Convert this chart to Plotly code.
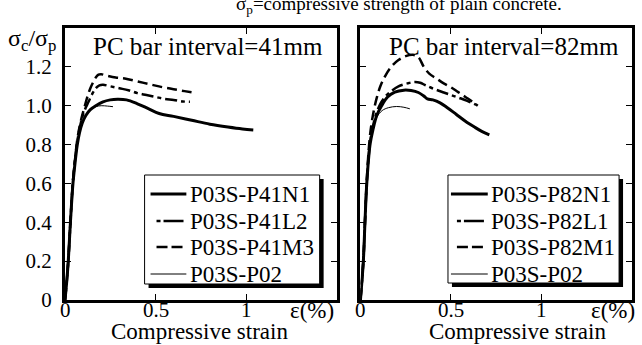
import plotly.graph_objects as go

# ---------------- data ----------------
# Left panel: PC bar interval = 41 mm
n1_41_x = [0, 0.01, 0.018, 0.03, 0.044, 0.056, 0.068, 0.08, 0.095, 0.115, 0.14, 0.17, 0.21, 0.25, 0.29, 0.34, 0.4, 0.46, 0.52, 0.6, 0.7, 0.8, 0.9, 0.98, 1.04]
n1_41_y = [0, 0.1, 0.2, 0.4, 0.6, 0.71, 0.8, 0.86, 0.91, 0.95, 0.98, 1.0, 1.02, 1.03, 1.033, 1.03, 1.01, 0.985, 0.96, 0.945, 0.925, 0.905, 0.89, 0.88, 0.875]
l2_41_x = [0, 0.01, 0.018, 0.03, 0.043, 0.055, 0.067, 0.08, 0.095, 0.11, 0.13, 0.15, 0.17, 0.19, 0.21, 0.25, 0.3, 0.35, 0.4, 0.45, 0.5, 0.55, 0.6, 0.65, 0.69]
l2_41_y = [0, 0.1, 0.2, 0.4, 0.6, 0.72, 0.81, 0.88, 0.94, 0.98, 1.02, 1.06, 1.09, 1.105, 1.108, 1.1, 1.09, 1.08, 1.065, 1.055, 1.045, 1.035, 1.03, 1.022, 1.02]
m3_41_x = [0, 0.01, 0.018, 0.03, 0.043, 0.055, 0.067, 0.08, 0.095, 0.11, 0.125, 0.14, 0.155, 0.17, 0.185, 0.2, 0.23, 0.28, 0.33, 0.4, 0.47, 0.54, 0.6, 0.66, 0.705]
m3_41_y = [0, 0.1, 0.2, 0.4, 0.6, 0.72, 0.82, 0.89, 0.95, 1.0, 1.05, 1.09, 1.12, 1.145, 1.16, 1.162, 1.155, 1.145, 1.14, 1.125, 1.11, 1.095, 1.085, 1.075, 1.068]
p02_41_x = [0, 0.01, 0.018, 0.03, 0.044, 0.056, 0.068, 0.08, 0.095, 0.115, 0.14, 0.17, 0.2, 0.235, 0.265]
p02_41_y = [0, 0.1, 0.2, 0.4, 0.6, 0.71, 0.8, 0.86, 0.91, 0.95, 0.98, 0.995, 1.0, 0.998, 0.995]

# Right panel: PC bar interval = 82 mm
n1_82_x = [0, 0.016, 0.025, 0.035, 0.053, 0.07, 0.09, 0.117, 0.15, 0.19, 0.24, 0.28, 0.32, 0.35, 0.37, 0.4, 0.44, 0.48, 0.53, 0.58, 0.63, 0.67, 0.712]
n1_82_y = [0, 0.2, 0.4, 0.6, 0.8, 0.88, 0.95, 1.0, 1.045, 1.07, 1.08, 1.078, 1.068, 1.05, 1.035, 1.03, 1.015, 0.99, 0.955, 0.92, 0.89, 0.868, 0.85]
l1_82_x = [0, 0.016, 0.025, 0.035, 0.052, 0.068, 0.088, 0.11, 0.14, 0.17, 0.21, 0.26, 0.3, 0.33, 0.36, 0.41, 0.46, 0.5, 0.54, 0.59, 0.638]
l1_82_y = [0, 0.2, 0.4, 0.6, 0.8, 0.89, 0.96, 1.01, 1.05, 1.075, 1.1, 1.115, 1.122, 1.118, 1.105, 1.085, 1.068, 1.055, 1.042, 1.025, 1.005]
m1_82_x = [0, 0.016, 0.025, 0.034, 0.048, 0.06, 0.075, 0.09, 0.11, 0.135, 0.17, 0.21, 0.25, 0.29, 0.32, 0.35, 0.38, 0.42, 0.46, 0.5, 0.54, 0.58, 0.62, 0.648]
m1_82_y = [0, 0.2, 0.4, 0.6, 0.8, 0.9, 0.98, 1.04, 1.1, 1.15, 1.2, 1.235, 1.255, 1.262, 1.25, 1.2, 1.165, 1.14, 1.115, 1.095, 1.07, 1.045, 1.02, 1.0]
p02_82_x = [0, 0.016, 0.025, 0.035, 0.053, 0.07, 0.09, 0.12, 0.155, 0.2, 0.24, 0.273]
p02_82_y = [0, 0.2, 0.4, 0.6, 0.8, 0.88, 0.94, 0.975, 0.99, 0.996, 0.992, 0.984]

names_41 = ["P03S-P41N1", "P03S-P41L2", "P03S-P41M3", "P03S-P02"]
names_82 = ["P03S-P82N1", "P03S-P82L1", "P03S-P82M1", "P03S-P02"]

y_ticks = [0, 0.2, 0.4, 0.6, 0.8, 1.0, 1.2]
y_tick_text = ["0", "0.2", "0.4", "0.6", "0.8", "1.0", "1.2"]
x_ticks = [0, 0.5, 1]
x_tick_text = ["0", "0.5", "1"]

# ---------------- styles ----------------
FONT = "Liberation Serif"
styles = [
    dict(width=3, dash="solid"),
    dict(width=2.5, dash="12px,4px,4px,4px"),
    dict(width=2.5, dash="10px,5px"),
    dict(width=1, dash="solid"),
]
legend_dash = ["solid", "4px,3px,20px,40px", "11px,4px,11px,40px", "solid"]

fig = go.Figure()

left_sets = [(n1_41_x, n1_41_y), (l2_41_x, l2_41_y), (m3_41_x, m3_41_y), (p02_41_x, p02_41_y)]
right_sets = [(n1_82_x, n1_82_y), (l1_82_x, l1_82_y), (m1_82_x, m1_82_y), (p02_82_x, p02_82_y)]

for (xs, ys), nm, st in zip(left_sets, names_41, styles):
    fig.add_trace(go.Scatter(x=xs, y=ys, name=nm, mode="lines", line_shape="spline",
                             line=dict(color="black", **st), xaxis="x", yaxis="y",
                             showlegend=False))
for (xs, ys), nm, st in zip(right_sets, names_82, styles):
    fig.add_trace(go.Scatter(x=xs, y=ys, name=nm, mode="lines", line_shape="spline",
                             line=dict(color="black", **st), xaxis="x2", yaxis="y2",
                             showlegend=False))

W, H = 642, 345
ML, MR, MT, MB = 65, 7, 28, 45
PW = W - ML - MR
PH = H - MT - MB

def px_x(p):
    return (p - ML) / PW

def px_y(p):
    return 1 - (p - MT) / PH

dom1 = [0, px_x(338)]
dom2 = [px_x(362), 1]

axis_common = dict(showline=True, linecolor="black", linewidth=3, mirror="ticks",
                   ticks="inside", ticklen=6, tickwidth=1, tickcolor="black",
                   showgrid=False, zeroline=False,
                   tickfont=dict(family=FONT, size=21, color="black"))

fig.update_layout(
    width=W, height=H,
    margin=dict(l=ML, r=MR, t=MT, b=MB),
    paper_bgcolor="white", plot_bgcolor="white",
    font=dict(family=FONT, color="black"),
    xaxis=dict(domain=dom1, range=[0, 1.5], tickvals=x_ticks, showticklabels=False, anchor="y", **axis_common),
    yaxis=dict(domain=[0, 1], range=[0, 1.4], tickvals=y_ticks, ticktext=y_tick_text, anchor="x",
               ticklabelstandoff=6, **axis_common),
    xaxis2=dict(domain=dom2, range=[0, 1.5], tickvals=x_ticks, showticklabels=False, anchor="y2", **axis_common),
    yaxis2=dict(domain=[0, 1], range=[0, 1.4], tickvals=y_ticks, showticklabels=False, anchor="x2", **axis_common),
    showlegend=False,
)

ann_font = dict(family=FONT, size=23, color="black")
annotations = [
    dict(text="σ<sub>p</sub>=compressive strength of plain concrete.", x=px_x(401), y=px_y(5),
         xanchor="center", yanchor="middle", font=dict(family=FONT, size=19, color="black")),
    dict(text="σ<sub>c</sub>/σ<sub>p</sub>", x=px_x(32), y=px_y(40),
         xanchor="center", yanchor="middle", font=dict(family=FONT, size=24, color="black")),
    dict(text="PC bar interval=41mm", x=px_x(209), y=px_y(47),
         xanchor="center", yanchor="middle", font=dict(family=FONT, size=25, color="black")),
    dict(text="PC bar interval=82mm", x=px_x(506), y=px_y(47),
         xanchor="center", yanchor="middle", font=dict(family=FONT, size=25, color="black")),
    dict(text="Compressive strain", x=px_x(200), y=px_y(331),
         xanchor="center", yanchor="middle", font=ann_font),
    dict(text="Compressive strain", x=px_x(520), y=px_y(331),
         xanchor="center", yanchor="middle", font=ann_font),
    dict(text="ε(%)", x=px_x(313), y=px_y(310),
         xanchor="center", yanchor="middle", font=ann_font),
    dict(text="ε(%)", x=px_x(616), y=px_y(310),
         xanchor="center", yanchor="middle", font=ann_font),
]
for a in annotations:
    a.update(xref="paper", yref="paper", showarrow=False)

# x tick labels placed at the axis tick values
for xr in ["x", "x2"]:
    for v, t in zip(x_ticks, x_tick_text):
        annotations.append(dict(text=t, x=v, xref=xr, y=px_y(310), yref="paper",
                                xanchor="center", yanchor="middle", showarrow=False,
                                font=dict(family=FONT, size=21, color="black")))

# ---------------- custom legends (box, shadow, key lines, labels) ----------------
shapes = []
legend_specs = [
    dict(names=names_41, box=(145, 321, 175, 284), key=(151, 187), text_x=189),
    dict(names=names_82, box=(450, 622, 175, 283), key=(453, 490), text_x=491),
]
row_y = [194, 221, 247, 274]
leg_widths = [3, 2.5, 2.5, 1]
for spec in legend_specs:
    x0, x1, y0, y1 = spec["box"]
    shapes.append(dict(type="rect", xref="paper", yref="paper",
                       x0=px_x(x0 + 4), x1=px_x(x1 + 4), y0=px_y(y1 + 4), y1=px_y(y0 + 4),
                       fillcolor="black", line=dict(width=0), layer="above"))
    shapes.append(dict(type="rect", xref="paper", yref="paper",
                       x0=px_x(x0), x1=px_x(x1), y0=px_y(y1), y1=px_y(y0),
                       fillcolor="white", line=dict(color="black", width=1), layer="above"))
    kx0, kx1 = spec["key"]
    for i, nm in enumerate(spec["names"]):
        ky = px_y(row_y[i])
        shapes.append(dict(type="line", xref="paper", yref="paper",
                           x0=px_x(kx0 if i in (0, 3) else kx0 + 6), x1=px_x(kx1), y0=ky, y1=ky,
                           line=dict(color="black", width=leg_widths[i], dash=legend_dash[i]),
                           layer="above"))
        annotations.append(dict(text=nm, x=px_x(spec["text_x"]), y=ky, xref="paper", yref="paper",
                                xanchor="left", yanchor="middle", showarrow=False,
                                font=dict(family=FONT, size=23, color="black")))

fig.update_layout(annotations=annotations, shapes=shapes)

fig.write_html("out.html")
